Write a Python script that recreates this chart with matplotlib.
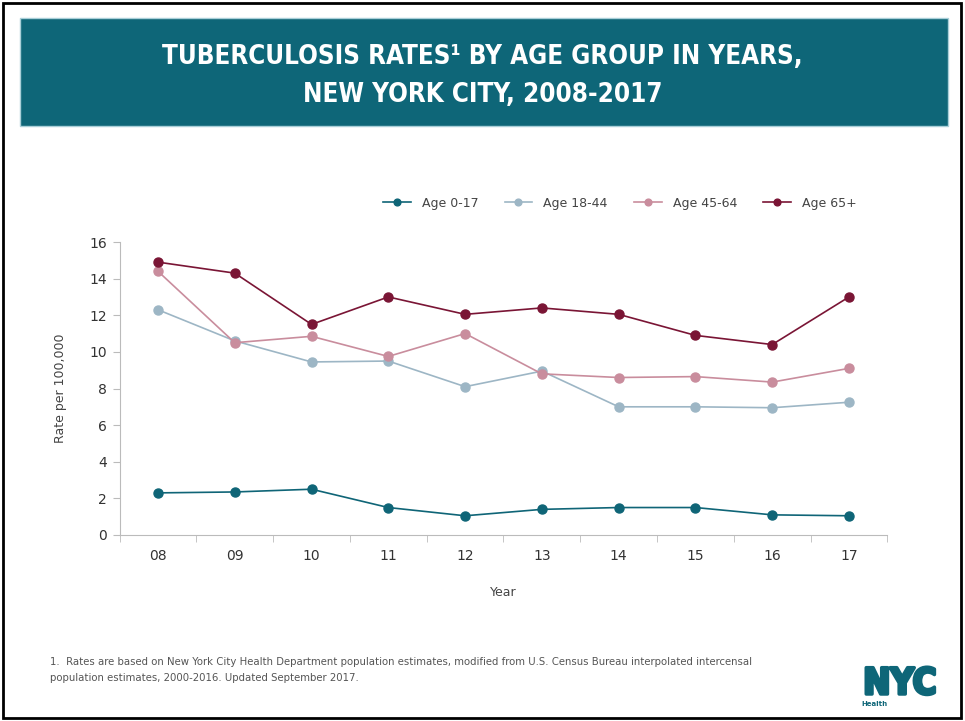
import matplotlib.pyplot as plt
import matplotlib.patheffects as pe
from matplotlib.patches import Rectangle

years = ["08", "09", "10", "11", "12", "13", "14", "15", "16", "17"]
age_0_17 = [2.3, 2.35, 2.5, 1.5, 1.05, 1.4, 1.5, 1.5, 1.1, 1.05]
age_18_44 = [12.3, 10.6, 9.45, 9.5, 8.1, 8.95, 7.0, 7.0, 6.95, 7.25]
age_45_64 = [14.4, 10.5, 10.85, 9.75, 11.0, 8.8, 8.6, 8.65, 8.35, 9.1]
age_65_plus = [14.9, 14.3, 11.5, 13.0, 12.05, 12.4, 12.05, 10.9, 10.4, 13.0]

series = [
    ("Age 0-17", age_0_17, "#0f6577"),
    ("Age 18-44", age_18_44, "#9db6c5"),
    ("Age 45-64", age_45_64, "#c98d9d"),
    ("Age 65+", age_65_plus, "#7a1535"),
]

TEAL = "#0e6678"

fig = plt.figure(figsize=(9.65, 7.21), dpi=100)
W, H = 965, 721


def fx(px):
    return px / W


def fy(py):
    return 1 - py / H


# page frame and title banner
fig.patches.append(Rectangle((fx(3), fy(718)), fx(958), 715 / H, transform=fig.transFigure,
                             fill=False, edgecolor="black", linewidth=2))
fig.patches.append(Rectangle((fx(20), fy(126)), fx(928), 108 / H, transform=fig.transFigure,
                             facecolor=TEAL, edgecolor="#a9cfd8", linewidth=1))
fig.text(0.5, fy(57), "TUBERCULOSIS RATES\u00b9 BY AGE GROUP IN YEARS,", ha="center", va="center",
         color="white", fontsize=18.6, fontweight="bold", fontstretch="condensed")
fig.text(0.5, fy(95), "NEW YORK CITY, 2008-2017", ha="center", va="center",
         color="white", fontsize=18.6, fontweight="bold", fontstretch="condensed")

ax_left, ax_width = 119.6, 767.8
ax = fig.add_axes([fx(ax_left), fy(535), fx(ax_width), 293 / H])
x = list(range(len(years)))
for label, values, color in series:
    ax.plot(x, values, color=color, marker="o", markersize=6.5, linewidth=1.2, label=label)

ax.set_xlim(-0.5, len(years) - 0.5)
ax.set_ylim(0, 16)
ax.set_yticks(range(0, 17, 2))
ax.set_xticks(x)
ax.set_xticklabels(years)
ax.set_xticks([i + 0.5 for i in range(-1, len(years))], minor=True)
ax.tick_params(axis="x", which="major", length=0, pad=10, labelsize=10, labelcolor="#333333")
ax.tick_params(axis="x", which="minor", length=5, color="#bbbbbb", direction="out")
ax.tick_params(axis="y", length=5, color="#bbbbbb", labelsize=10, labelcolor="#333333", pad=4)
for side in ("top", "right"):
    ax.spines[side].set_visible(False)
for side in ("left", "bottom"):
    ax.spines[side].set_color("#bbbbbb")
ax.set_ylabel("Rate per 100,000", fontsize=9, color="#444444", labelpad=16)
ax.set_xlabel("Year", fontsize=9, color="#444444", labelpad=17)

ax.legend(loc="center right", bbox_to_anchor=((862 - ax_left) / ax_width, (535 - 203) / 293),
          ncol=4, frameon=False, fontsize=9, labelcolor="#444444", markerscale=0.75,
          handlelength=2.2, columnspacing=2.1, handletextpad=0.9, borderaxespad=0)

fig.text(fx(50), fy(662), "1.  Rates are based on New York City Health Department population estimates, "
         "modified from U.S. Census Bureau interpolated intercensal", fontsize=8.1, color="#555555",
         va="center", fontstretch="condensed")
fig.text(fx(50), fy(678), "population estimates, 2000-2016. Updated September 2017.", fontsize=8.1,
         color="#555555", va="center", fontstretch="condensed")

# NYC Health mark
fig.text(fx(900), fy(684), "NYC", ha="center", va="center", color=TEAL, fontsize=26,
         fontweight="heavy", fontstretch="condensed",
         path_effects=[pe.withStroke(linewidth=2.5, foreground=TEAL)])
fig.text(fx(861), fy(704), "Health", ha="left", va="center", color=TEAL, fontsize=5,
         fontweight="bold")

fig.savefig("out.png", dpi=100)
